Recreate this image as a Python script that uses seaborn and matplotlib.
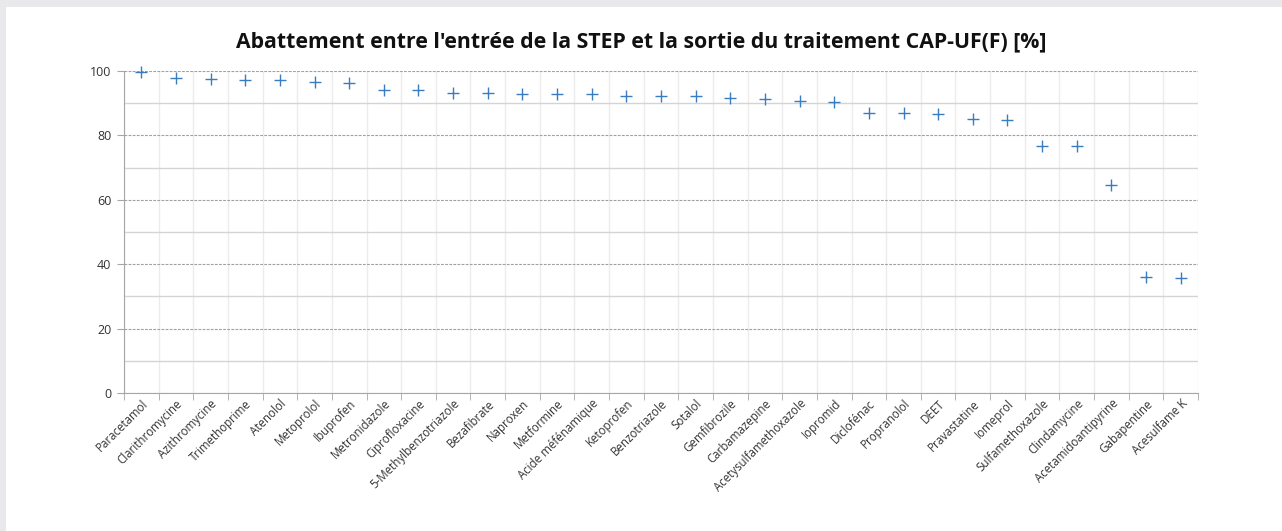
import matplotlib
matplotlib.use("Agg")
import matplotlib.pyplot as plt
import numpy as np
import pandas as pd
import seaborn as sns
from matplotlib.patches import Rectangle
from matplotlib.ticker import MultipleLocator, FixedLocator

substances = ["Paracetamol", "Clarithromycine", "Azithromycine", "Trimethoprime",
              "Atenolol", "Metoprolol", "Ibuprofen", "Metronidazole", "Ciprofloxacine",
              "5-Methylbenzotriazole", "Bezafibrate", "Naproxen", "Metformine",
              "Acide méfénamique", "Ketoprofen", "Benzotriazole", "Sotalol",
              "Gemfibrozile", "Carbamazepine", "Acetysulfamethoxazole", "Iopromid",
              "Diclofénac", "Propranolol", "DEET", "Pravastatine", "Iomeprol",
              "Sulfamethoxazole", "Clindamycine", "Acetamidoantipyrine", "Gabapentine",
              "Acesulfame K"]
abattement = [99.7, 97.9, 97.4, 97.2, 97.2, 96.7, 96.3, 94.2, 94.0, 93.3,
              93.2, 93.0, 92.9, 92.8, 92.2, 92.2, 92.1, 91.6, 91.3, 90.6,
              90.5, 87.0, 87.0, 86.7, 85.1, 84.7, 76.8, 76.8, 64.7, 36.1, 35.8]

df = pd.DataFrame({"substance": substances, "abattement": abattement})

sns.set_style("white")
plt.rcParams["font.family"] = ["Open Sans", "DejaVu Sans"]

fig = plt.figure(figsize=(12.82, 5.31), dpi=100)
fig.patch.set_facecolor("white")
# cadre gris en haut et a gauche
fig.patches.append(Rectangle((0, 0), 6 / 1282, 1, transform=fig.transFigure,
                             facecolor="#e9e9eb", edgecolor="none", zorder=-10))
fig.patches.append(Rectangle((0, 1 - 7 / 531), 1, 7 / 531, transform=fig.transFigure,
                             facecolor="#e9e9eb", edgecolor="none", zorder=-10))

ax = fig.add_axes([124 / 1282, 1 - 393 / 531, (1198 - 124) / 1282, (393 - 71) / 531])
ax.set_facecolor("white")

sns.scatterplot(data=df, x="substance", y="abattement", marker="+", s=70,
                color="#3a7cc0", linewidth=1.0, ax=ax, zorder=5, clip_on=False)

n = len(substances)
ax.set_xlim(-0.5, n - 0.5)
ax.set_ylim(0, 100)

# grille
ax.yaxis.set_major_locator(MultipleLocator(20))
ax.yaxis.set_minor_locator(MultipleLocator(10))
ax.grid(which="major", axis="y", color="#a0a0a0", linestyle=(0, (2.5, 1.2)), linewidth=0.8)
ax.grid(which="minor", axis="y", color="#d4d4d4", linestyle="-", linewidth=1.0)
ax.xaxis.set_minor_locator(FixedLocator(np.arange(-0.5, n, 1.0)))
ax.grid(which="minor", axis="x", color="#ececec", linestyle="-", linewidth=1.0)
ax.set_axisbelow(True)

for side in ["top", "right"]:
    ax.spines[side].set_visible(False)
ax.spines["left"].set_color("#a6a6a6")
ax.spines["bottom"].set_color("#a6a6a6")

ax.tick_params(axis="y", which="major", length=5, color="#a6a6a6", labelsize=9,
               labelcolor="#333333", left=True, pad=4)
ax.tick_params(axis="y", which="minor", length=0)
ax.tick_params(axis="x", which="major", length=0, labelsize=8.3, labelcolor="#333333", pad=3)
ax.tick_params(axis="x", which="minor", length=5, color="#a6a6a6", bottom=True)

ax.set_xticks(range(n))
ax.set_xticklabels(substances, rotation=45, ha="right", rotation_mode="anchor")
ax.set_xlabel("")
ax.set_ylabel("")

fig.suptitle("Abattement entre l'entrée de la STEP et la sortie du traitement CAP-UF(F) [%]",
             x=0.5, y=0.94, fontsize=15.3, fontweight="bold", color="#111111")

fig.savefig("out.png", dpi=100, facecolor=fig.get_facecolor())
